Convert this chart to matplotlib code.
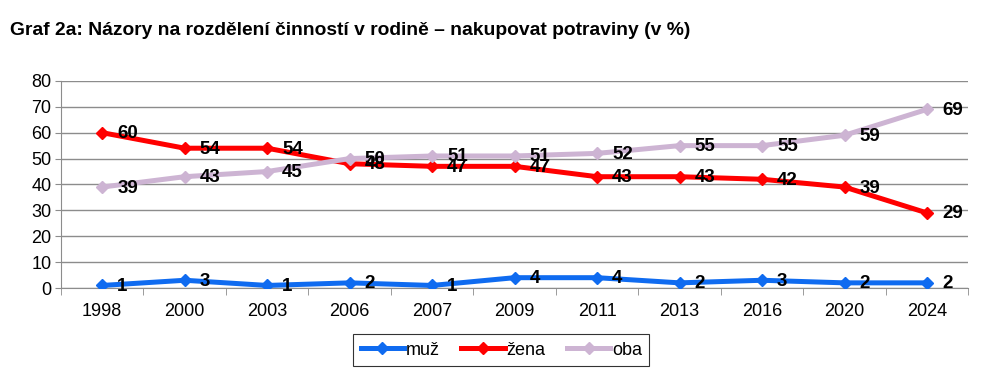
import numpy as np
from matplotlib import pyplot as plt

plt.rcParams['font.family'] = ['Liberation Sans', 'DejaVu Sans']

# data
years = ['1998', '2000', '2003', '2006', '2007', '2009', '2011', '2013', '2016', '2020', '2024']
muz = [1, 3, 1, 2, 1, 4, 4, 2, 3, 2, 2]
zena = [60, 54, 54, 48, 47, 47, 43, 43, 42, 39, 29]
oba = [39, 43, 45, 50, 51, 51, 52, 55, 55, 59, 69]

series = [('muž', muz, '#0F6BF0'), ('žena', zena, '#FF0000'), ('oba', oba, '#CDB4D3')]

fig = plt.figure(figsize=(9.87, 3.78), dpi=100)
ax = fig.add_axes([0.0618, 0.238, 0.9192, 0.548])

x = np.arange(len(years))
for name, vals, col in series:
    ax.plot(x, vals, color=col, lw=3.6, marker='D', ms=6, label=name, zorder=3)
    for xi, v in zip(x, vals):
        ax.annotate(str(v), (xi, v), xytext=(15, -1), textcoords='offset pixels',
                    ha='left', va='center', fontsize=13.5, fontweight='bold', zorder=4)

ax.set_xlim(-0.5, len(years) - 0.5)
ax.set_ylim(0, 80)
ax.set_yticks(range(0, 81, 10))
ax.grid(axis='y', color='#8c8c8c', lw=1)
ax.set_axisbelow(True)

# category ticks sit between the years
ax.set_xticks(x)
ax.set_xticklabels(years)
ax.set_xticks(np.arange(-0.5, len(years)), minor=True)
ax.tick_params(axis='x', which='major', length=0, labelsize=13, pad=11)
ax.tick_params(axis='x', which='minor', length=5, color='#8c8c8c')
ax.tick_params(axis='y', length=4, color='#8c8c8c', labelsize=13, pad=3)

for s in ['top', 'right']:
    ax.spines[s].set_visible(False)
for s in ['left', 'bottom']:
    ax.spines[s].set_color('#8c8c8c')

fig.text(0.01, 0.92, 'Graf 2a: Názory na rozdělení činností v rodině – nakupovat potraviny (v %)',
         fontsize=13.85, fontweight='bold', ha='left', va='center')

leg = fig.legend(loc='center', bbox_to_anchor=(0.508, 0.074), ncol=3, fontsize=13,
                 frameon=True, fancybox=False, edgecolor='black', handlelength=2.4,
                 handletextpad=0.1, columnspacing=1.2, borderpad=0.4)
leg.get_frame().set_linewidth(0.8)

plt.savefig('out.png', dpi=100)
